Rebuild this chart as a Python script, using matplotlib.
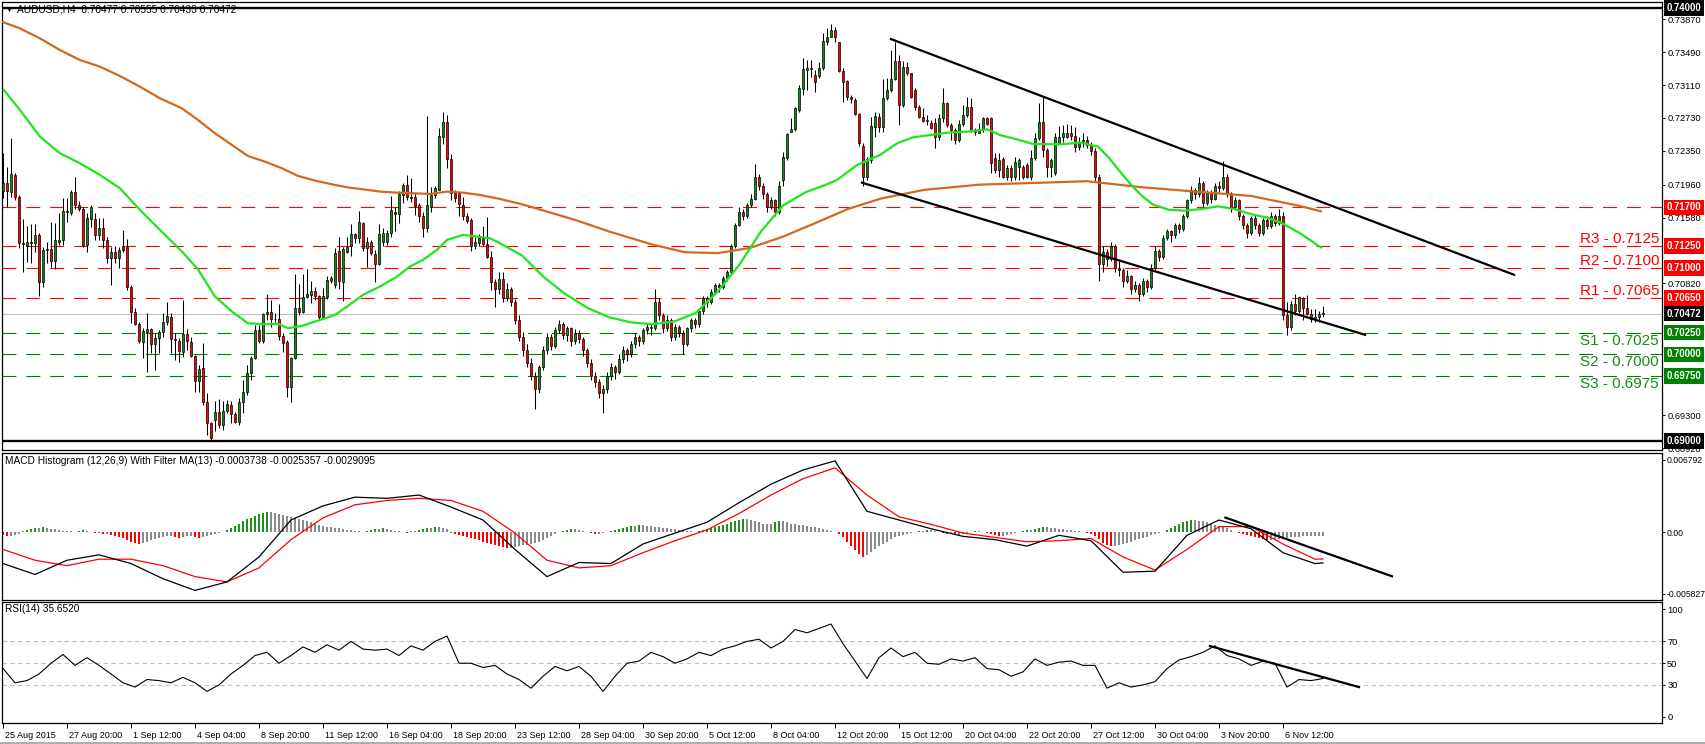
import matplotlib
matplotlib.use('Agg')
import matplotlib.pyplot as plt
import matplotlib.transforms as mtrans
import numpy as np

plt.rcParams['font.family'] = ['Liberation Sans', 'DejaVu Sans']

# ---------------- price data (H4 candles, bar index 0..330) ----------------
OPEN = [
 .71891,.71984,.71880,.72072,.71814,.71284,.71257,.71295,.71284,.71376,
 .70841,.71207,.71215,.71084,.71303,.71322,.71657,.71630,.71872,.71730,
 .71676,.71265,.71568,.71560,.71380,.71457,.71322,.71118,.71180,.71110,
 .71245,.71245,.70776,.70495,.70353,.70149,.70264,.70291,.70118,.70187,
 .70264,.70372,.70438,.70176,.70157,.70034,.70237,.70149,.69984,.69688,
 .69842,.69446,.69207,.69245,.69334,.69180,.69349,.69418,.69314,.69218,
 .69449,.69564,.69788,.69961,.70284,.70150,.70464,.70487,.70407,.70407,
 .70214,.70141,.69622,.69961,.70541,.70495,.70668,.70687,.70733,.70676,
 .70438,.70668,.70853,.70803,.71191,.70841,.71187,.71253,.71391,.71341,
 .71514,.71226,.71295,.71161,.71041,.71303,.71303,.71399,.71618,.71618,
 .71841,.71953,.71822,.71822,.71726,.71599,.71457,.71699,.71841,.71899,
 .72507,.72682,.72253,.71861,.71861,.71726,.71599,.71553,.71253,.71291,
 .71345,.71276,.71130,.70834,.70753,.70868,.70650,.70750,.70600,.70400,
 .70200,.70050,.69900,.69750,.69600,.69850,.70050,.70200,.70100,.70280,
 .70350,.70220,.70300,.70150,.70250,.70180,.70050,.69900,.69750,.69680,
 .69550,.69600,.69750,.69850,.69800,.69950,.70050,.70000,.70120,.70200,
 .70150,.70280,.70320,.70300,.70600,.70450,.70300,.70400,.70200,.70320,
 .70250,.70120,.70300,.70400,.70350,.70500,.70650,.70600,.70720,.70800,
 .70780,.70880,.70950,.71250,.71500,.71650,.71600,.71720,.71800,.72050,
 .71950,.71850,.71700,.71780,.71650,.72014,.72272,.72572,.72599,.72822,
 .73060,.73283,.73302,.73226,.73218,.73310,.73610,.73668,.73745,.73603,
 .73272,.73156,.72976,.72937,.72776,.72410,.72053,.72245,.72622,.72737,
 .72630,.72957,.73053,.73180,.73388,.72880,.73322,.73253,.73053,.72853,
 .72745,.72699,.72676,.72676,.72514,.72726,.72899,.72649,.72591,.72476,
 .72656,.72764,.72853,.72591,.72560,.72599,.72726,.72726,.72264,.72130,
 .72253,.72053,.72149,.72053,.72168,.72168,.72187,.72053,.72264,.72495,
 .72687,.72360,.72168,.72091,.72445,.72507,.72507,.72560,.72522,.72399,
 .72457,.72480,.72420,.72350,.72050,.71050,.71180,.71100,.71250,.71000,
 .70980,.70850,.70900,.70750,.70800,.70700,.70850,.70780,.71000,.71200,
 .71120,.71350,.71420,.71380,.71500,.71450,.71600,.71780,.71900,.71850,
 .71980,.71750,.71880,.71800,.71950,.71920,.72050,.71850,.71700,.71780,
 .71600,.71500,.71400,.71580,.71500,.71400,.71550,.71480,.71600,.71520,
 .71600,.70450,.70320,.70580,.70500,.70654,.70538,.70470,.70410,.70435,
 .70477]

HIGH = [
 .72322,.72168,.72503,.72091,.71841,.71561,.71484,.71507,.71507,.71399,
 .71245,.71303,.71530,.71522,.71630,.71803,.71803,.71899,.72045,.71770,
 .71707,.71630,.71726,.71630,.71572,.71572,.71360,.71245,.71253,.71245,
 .71437,.71330,.70803,.70534,.70380,.70303,.70474,.70303,.70245,.70283,
 .70474,.70610,.70476,.70245,.70187,.70630,.70291,.70207,.69995,.69880,
 .70130,.69553,.69220,.69457,.69484,.69457,.69476,.69457,.69341,.69495,
 .69707,.69880,.69984,.70341,.70341,.70476,.70699,.70630,.70476,.70580,
 .70245,.70168,.69976,.70926,.70814,.70926,.70987,.70849,.70776,.70687,
 .70764,.70907,.70910,.71230,.71361,.71245,.71361,.71507,.71399,.71657,
 .71534,.71361,.71322,.71207,.71503,.71457,.71437,.71830,.71707,.71888,
 .71984,.72072,.72034,.71861,.71745,.71649,.72753,.71938,.71945,.72620,
 .72797,.72766,.72315,.71899,.71880,.71815,.71630,.71572,.71361,.71391,
 .71484,.71591,.71191,.70868,.70957,.70950,.70820,.70780,.70640,.70450,
 .70260,.70120,.69960,.69800,.69880,.70100,.70250,.70240,.70320,.70400,
 .70380,.70330,.70320,.70290,.70280,.70200,.70080,.69950,.69800,.69720,
 .69650,.69800,.69900,.69880,.70000,.70100,.70080,.70150,.70250,.70220,
 .70300,.70360,.70350,.70750,.70650,.70480,.70450,.70420,.70350,.70340,
 .70280,.70320,.70420,.70420,.70520,.70680,.70680,.70750,.70830,.70820,
 .70900,.70980,.71280,.71520,.71700,.71680,.71750,.71850,.72200,.72080,
 .71980,.71880,.71820,.71800,.72000,.72341,.72560,.72726,.72860,.73110,
 .73418,.73399,.73399,.73283,.73380,.73707,.73764,.73814,.73783,.73610,
 .73302,.73168,.72995,.72957,.72784,.72437,.72283,.72745,.72803,.72784,
 .73180,.73187,.73514,.73610,.73457,.73388,.73380,.73253,.73072,.72880,
 .72841,.72764,.72707,.72726,.72772,.73072,.72918,.72668,.72610,.72707,
 .72880,.72976,.72957,.72610,.72668,.72745,.72745,.72745,.72322,.72322,
 .72283,.72187,.72190,.72283,.72264,.72190,.72207,.72360,.72553,.72899,
 .72968,.72379,.72264,.72553,.72637,.72649,.72656,.72649,.72630,.72507,
 .72560,.72520,.72450,.72380,.72080,.71250,.71220,.71300,.71270,.71080,
 .71000,.70980,.70920,.70850,.70820,.70880,.70870,.71050,.71250,.71220,
 .71380,.71450,.71440,.71520,.71520,.71620,.71800,.71950,.71920,.72050,
 .72000,.71900,.71900,.71980,.72000,.72230,.72080,.71880,.71820,.71800,
 .71620,.71520,.71600,.71620,.71520,.71580,.71600,.71650,.71620,.71680,
 .71650,.70600,.70620,.70700,.70680,.70665,.70688,.70520,.70520,.70500,
 .70555]

LOW = [
 .71803,.71707,.71822,.71784,.71226,.70957,.71072,.71053,.71188,.70680,
 .70784,.71053,.71015,.70984,.71265,.71265,.71534,.71611,.71676,.71661,
 .71245,.71188,.71476,.71322,.71322,.71226,.71053,.70803,.71053,.70995,
 .71188,.70745,.70360,.70341,.70129,.69957,.69803,.70015,.69822,.70015,
 .70206,.70341,.70014,.69937,.69918,.69976,.70053,.69976,.69572,.69572,
 .69418,.69072,.69015,.69111,.69149,.69130,.69322,.69207,.69207,.69187,
 .69322,.69534,.69707,.69942,.70130,.70130,.70399,.70322,.70380,.70170,
 .70034,.69514,.69446,.69942,.70457,.70476,.70657,.70599,.70630,.70407,
 .70407,.70638,.70822,.70764,.70753,.70622,.71168,.71141,.71291,.71291,
 .71199,.71015,.71149,.70841,.71034,.71253,.71264,.71361,.71426,.71514,
 .71745,.71784,.71764,.71611,.71534,.71361,.71418,.71649,.71803,.71899,
 .72430,.72149,.71784,.71764,.71599,.71553,.71514,.71195,.71214,.71253,
 .71253,.71111,.70745,.70553,.70699,.70600,.70620,.70560,.70350,.70150,
 .69980,.69850,.69700,.69370,.69550,.69820,.70000,.70050,.70080,.70250,
 .70180,.70150,.70100,.70120,.70130,.69980,.69850,.69700,.69620,.69500,
 .69320,.69560,.69700,.69720,.69780,.69900,.69920,.69970,.70080,.70100,
 .70120,.70240,.70220,.70280,.70400,.70250,.70270,.70150,.70170,.70200,
 .70000,.70100,.70260,.70300,.70320,.70470,.70550,.70580,.70700,.70720,
 .70760,.70850,.70930,.71230,.71480,.71550,.71580,.71700,.71780,.71900,
 .71800,.71650,.71680,.71600,.71620,.71950,.72250,.72572,.72580,.72803,
 .72995,.73053,.73207,.73034,.73187,.73283,.73572,.73668,.73610,.73264,
 .72918,.72937,.72899,.72764,.72410,.71950,.72010,.72207,.72514,.72572,
 .72572,.72937,.73034,.73168,.72649,.72861,.73226,.72964,.72822,.72726,
 .72687,.72649,.72599,.72379,.72476,.72687,.72630,.72476,.72430,.72457,
 .72637,.72745,.72572,.72533,.72553,.72572,.72649,.72091,.72091,.72053,
 .72033,.72014,.72000,.72014,.72014,.72030,.72033,.72014,.72245,.72476,
 .72283,.72053,.72053,.72072,.72437,.72457,.72495,.72476,.72341,.72360,
 .72400,.72380,.72300,.72000,.70850,.70950,.71020,.71080,.70950,.70900,
 .70780,.70820,.70700,.70720,.70620,.70680,.70720,.70760,.70980,.71080,
 .71100,.71320,.71300,.71350,.71400,.71430,.71580,.71750,.71800,.71820,
 .71700,.71720,.71750,.71780,.71880,.71900,.71820,.71650,.71680,.71550,
 .71450,.71350,.71380,.71450,.71370,.71380,.71450,.71460,.71480,.71500,
 .70400,.70220,.70280,.70450,.70480,.70400,.70450,.70370,.70370,.70370,
 .70433]

CLOSE = [
 .71984,.71891,.72084,.71822,.71284,.71272,.71295,.71290,.71376,.70841,
 .71207,.71215,.71084,.71322,.71322,.71657,.71641,.71876,.71730,.71676,
 .71265,.71572,.71703,.71380,.71457,.71322,.71118,.71180,.71110,.71207,
 .71207,.70776,.70495,.70353,.70160,.70272,.70291,.70118,.70187,.70264,
 .70372,.70445,.70176,.70168,.70045,.70237,.70161,.69984,.69699,.69830,
 .69446,.69207,.69034,.69334,.69180,.69349,.69430,.69311,.69226,.69449,
 .69564,.69788,.69961,.70284,.70150,.70464,.70487,.70407,.70405,.70214,
 .70130,.69622,.69961,.70541,.70495,.70668,.70695,.70733,.70676,.70438,
 .70676,.70860,.70883,.71172,.70853,.71214,.71245,.71391,.71345,.71526,
 .71226,.71295,.71168,.71041,.71391,.71399,.71399,.71668,.71645,.71853,
 .71957,.71822,.71803,.71714,.71599,.71457,.71726,.71841,.71918,.72523,
 .72682,.72253,.71861,.71803,.71734,.71599,.71545,.71253,.71295,.71345,
 .71276,.71130,.70834,.70753,.70868,.70650,.70750,.70600,.70400,.70200,
 .70050,.69900,.69750,.69600,.69850,.70050,.70200,.70100,.70280,.70350,
 .70220,.70300,.70150,.70250,.70180,.70050,.69900,.69750,.69680,.69550,
 .69600,.69750,.69850,.69800,.69950,.70050,.70000,.70120,.70200,.70150,
 .70280,.70320,.70300,.70600,.70450,.70300,.70400,.70200,.70320,.70250,
 .70120,.70300,.70400,.70350,.70500,.70650,.70600,.70720,.70800,.70780,
 .70880,.70950,.71250,.71500,.71650,.71600,.71720,.71800,.72050,.71950,
 .71850,.71700,.71780,.71650,.71950,.72283,.72541,.72599,.72841,.73072,
 .73295,.73302,.73298,.73149,.73310,.73618,.73668,.73745,.73660,.73272,
 .73141,.72976,.72945,.72776,.72437,.72053,.72253,.72638,.72753,.72630,
 .72957,.73053,.73180,.73388,.72880,.73322,.73253,.72976,.72853,.72745,
 .72699,.72695,.72618,.72514,.72726,.72899,.72649,.72591,.72476,.72660,
 .72764,.72853,.72591,.72564,.72599,.72726,.72660,.72207,.72130,.72245,
 .72053,.72149,.72053,.72226,.72245,.72053,.72053,.72264,.72495,.72687,
 .72360,.72168,.72245,.72514,.72514,.72553,.72560,.72522,.72399,.72457,
 .72480,.72420,.72350,.72050,.71050,.71180,.71100,.71250,.71000,.70980,
 .70850,.70900,.70750,.70800,.70700,.70850,.70780,.71000,.71200,.71120,
 .71350,.71420,.71380,.71500,.71450,.71600,.71780,.71900,.71850,.71980,
 .71750,.71880,.71800,.71950,.71920,.72050,.71850,.71700,.71780,.71600,
 .71500,.71400,.71580,.71500,.71400,.71550,.71480,.71600,.71520,.71600,
 .70450,.70320,.70580,.70500,.70660,.70538,.70470,.70410,.70435,.70472,
 .70472]

# moving averages (bar position, price)
GREEN_MA_X = [0,4.25,9.25,14.25,19.25,24.25,29.25,34.25,39.25,44.75,48.75,53,57.25,61.25,65.5,68.75,
              71.25,74.75,78.75,83,86,90,94.25,98.5,101.75,105,108.5,111,115,118.5,121.75,124.25,
              129.75,135.25,140.5,146,151.5,157,162.25,167.75,173.25,178.75,184,189.5,195,200.5,
              205.75,208.5,213.5,219.25,223.5,227.5,231.75,236,241,246,249.25,252.5,257.5,264.25,
              269.25,273.75,276.5,279.25,282,284.75,287.5,291.5,295.5,299.75,303.75,307.75,312,316,
              319.5,324.25,329.75]
GREEN_MA_Y = [.73064,.72822,.72514,.72322,.72207,.72072,.71918,.71668,.71437,.71187,.70983,.70668,.70495,
              .70360,.70349,.70353,.70303,.70330,.70391,.70457,.70553,.70688,.70784,.70899,.71015,.71092,
              .71207,.71322,.71380,.71361,.71341,.71284,.71143,.70890,.70700,.70540,.70430,.70370,.70350,
              .70380,.70480,.70730,.71030,.71420,.71720,.71870,.71960,.72014,.72187,.72303,.72437,.72507,
              .72533,.72560,.72572,.72599,.72533,.72495,.72430,.72426,.72445,.72400,.72270,.72110,.71960,
              .71830,.71730,.71670,.71660,.71680,.71710,.71680,.71620,.71580,.71520,.71400,.71227]
ORANGE_MA_X = [-0.25,4.25,9.25,14.25,19.25,24.25,29.25,34.25,39.25,44.75,48.75,53,57.25,61.25,65.5,69.75,
               73.75,78,83,86,90,94.25,98.5,102.5,106.75,111,115,119.25,124.25,129.75,135.25,143.25,
               151.5,162.25,170.5,178.75,186.75,195,203.25,211.25,219.5,230.25,244,257.5,271,284.75,
               298.25,312,324.25,329.75]
ORANGE_MA_Y = [.73841,.73764,.73649,.73514,.73399,.73322,.73214,.73091,.72957,.72841,.72707,.72553,.72418,
               .72291,.72226,.72149,.72061,.72007,.71957,.71930,.71907,.71880,.71868,.71861,.71853,.71880,
               .71868,.71841,.71795,.71734,.71660,.71550,.71420,.71270,.71180,.71170,.71230,.71360,.71520,
               .71680,.71800,.71900,.71960,.71980,.72000,.71930,.71880,.71830,.71714,.71649]

# channel trend lines (bar, price)
CHANNEL_UPPER_X = [222, 377.75]
CHANNEL_UPPER_Y = [0.73641, 0.70920]
CHANNEL_LOWER_X = [214.75, 340.5]
CHANNEL_LOWER_Y = [0.71983, 0.70227]

# horizontal levels
RESIST = [0.7125, 0.7100, 0.7065]
RESIST_TXT = ['R3 - 0.7125', 'R2 - 0.7100', 'R1 - 0.7065']
SUPPORT = [0.7025, 0.7000, 0.6975]
SUPPORT_TXT = ['S1 - 0.7025', 'S2 - 0.7000', 'S3 - 0.6975']
EXTRA_RED = 0.7170
LAST_PRICE = 0.70472
BLACK_LEVELS = [0.7400, 0.6900]

# scale labels (those hidden behind the coloured price boxes are left out)
PRICE_TICKS = [0.7387, 0.7349, 0.7311, 0.7273, 0.7235, 0.7196, 0.7158,
               0.7082, 0.6930, 0.6892]
PRICE_TICK_TXT = ['0.73870', '0.73490', '0.73110', '0.72730', '0.72350', '0.71960', '0.71580',
                  '0.70820', '0.69300', '0.68920']

# MACD panel (values x 1e-3 at bars 0,8,...,328,330)
MACD_X = list(range(0, 329, 8)) + [330]
MACD_MAIN = [-2.97, -4.0, -2.66, -2.15, -2.97, -4.4, -5.5, -4.7, -2.35, 1.13, 2.46, 3.28, 3.17, 3.48,
             2.35, 1.13, -1.64, -4.2, -2.87, -2.97, -1.13, -0.1, 0.92, 2.76, 4.5, 5.84, 6.7, 1.95,
             1.13, 0.31, -0.41, -0.72, -1.33, -0.31, -0.82, -3.79, -3.69, -0.31, 1.13, 0.31, -1.95,
             -2.97, -2.91]
MACD_SIGNAL = [-1.64, -2.66, -3.17, -2.56, -2.56, -3.17, -4.2, -4.7, -3.38, -0.72, 1.33, 2.56, 2.97,
               3.17, 2.97, 1.95, -0.1, -2.66, -3.38, -3.17, -1.95, -0.82, 0.2, 1.74, 3.48, 5.02, 6.04,
               3.48, 1.43, 0.72, -0.1, -0.51, -0.92, -0.82, -0.61, -2.35, -3.58, -1.64, 0.51, 0.51,
               -1.13, -2.56, -2.54]
# histogram per bar (x 1e-4)
MACD_HIST = [
 -3,-4,-4,-3,-2, 1,2,3,4,4,5,4,3,3,2,1, 1,1,0,1,2,1,0,-1,-1,-2,-2,
 -3,-4,-5,-6,-8,-9,-10,-11,-10,-9,-8,-7,-6,-5,
 -4,-4,-5,-6,-5,-4,-4,-5,-6,-5,-4,-3,-2,
 -1,0,2,4,6,8,10,12,13, 15,17,18,19,19,18,17,16, 15,14,13,12,11,10,9,8,
 7,6,5,5,4,4,3,2,2,1,1,0,1,2, 3,3,4,3,2, 1,1,0,-1,1,
 1,2,3,4,4,5,5,4,3, -1,-2,-3,-4,-5,-6,-7,-8,-9,
 -10,-11,-12,-13,-14,-15,-15,-14,-13,-12,-12,-11,-10,-9,-8,
 -6,-4,-2,0,1,2,3,3,2,1,0, -1,-2,-2,-1,0,1,2,3,
 4,5,6,6,7,7,6,6,5,5,4,4,3,3, 2,2,1,1,0,1,2,3,4,5,6,
 7,8,9,10,11,12,12,11,10,9,8, 8,8,9,10,10,9,8,8,7,7,
 6,5,5,4,3,2,1,0,-2, -5,-9,-13,-17,-21,-24,-22,-19, -16,-13,-11,-9,-7,-5,-4,-3,
 -2,-1,0,1,1, 2,2,1,0,-1,-2,-2,-3,-3,-2,-1,0,1,1,0,-1,-2,-3,-4,-4,-3,-2,-1,0,1,2,2,
 3,4,5,5,4,4,3,3,2,2,1,1,0,-1, -2,-4,-7,-10,-12,-13,-13,-12,
 -11,-10,-9,-8,-7,-6,-5,-3, -2,-1,0,2,4, 6,8,9,10,11,11,10,10,9,8,7,
 6,5,4,2,0,-1, -2,-3,-4,-5,-6,-7,-8,-8, -7,-7,-6,-6,-5,-5,-5,-4,-4,-4,-4,-4,-4]
MACD_TREND_X = [305.6, 347.25]
MACD_TREND_Y = [0.001356, -0.00417]
MACD_TICKS = [0.006792, 0.0, -0.005827]
MACD_TICK_TXT = ['0.006792', '0.00', '-0.005827']

# RSI (bars 0,3,...,330)
RSI_X = list(range(0, 331, 3))
RSI = [45, 31.7, 33.7, 39.8, 49.8, 57.9, 47.8, 54.9, 47.8, 39.8,
       31.7, 27.7, 34.7, 33.7, 31.7, 36.7, 31.7, 23.7, 29.7, 39.8,
       47.8, 56.9, 59.9, 49.8, 56.9, 64.9, 59.9, 66.9, 61.9, 70.0,
       62.9, 61.9, 62.9, 56.9, 65.9, 61.9, 70.0, 75.0, 49.8, 49.8,
       45.8, 47.8, 39.8, 34.7, 26.7, 37.7, 46.8, 42.8, 46.8, 37.7,
       23.7, 37.7, 49.8, 51.8, 59.9, 55.9, 49.8, 53.8, 59.9, 56.9,
       62.9, 65.9, 70.0, 72.0, 63.9, 70.0, 81.0, 78.0, 82.0, 86.1,
       67.9, 51.8, 35.7, 54.9, 63.9, 55.9, 59.9, 49.8, 48.8, 53.8,
       51.8, 54.9, 44.8, 43.8, 37.7, 41.8, 53.8, 47.8, 50.8, 51.8,
       47.8, 47.8, 26.7, 31.7, 27.7, 29.7, 32.7, 44.8, 52.8, 55.9,
       59.9, 65.9, 56.9, 53.8, 47.8, 51.8, 49.8, 27.7, 34.7, 33.7, 35.65]
RSI_TREND_X = [301.75, 339]
RSI_TREND_Y = [65.7, 27.7]
RSI_LEVELS = [70, 50, 30]
RSI_TICKS = [100, 70, 50, 30, 0]

XTICK_BARS = list(range(0, 321, 16))
XTICK_TXT = ['25 Aug 2015', '27 Aug 20:00', '1 Sep 12:00', '4 Sep 04:00', '8 Sep 20:00',
             '11 Sep 12:00', '16 Sep 04:00', '18 Sep 20:00', '23 Sep 12:00', '28 Sep 04:00',
             '30 Sep 20:00', '5 Oct 12:00', '8 Oct 04:00', '12 Oct 20:00', '15 Oct 12:00',
             '20 Oct 04:00', '22 Oct 20:00', '27 Oct 12:00', '30 Oct 04:00', '3 Nov 20:00',
             '6 Nov 12:00']

# ---------------- figure ----------------
W, H = 1705, 744
fig = plt.figure(figsize=(W / 100, H / 100), dpi=100)
fig.patch.set_facecolor('white')


def rect(top, bottom, left=2, right=1662):
    return [left / W, 1 - bottom / H, (right - left) / W, (bottom - top) / H]


ax = fig.add_axes(rect(2, 450))
axm = fig.add_axes(rect(453, 600))
axr = fig.add_axes(rect(602, 723))

XL = (-0.25, 414.75)
for a in (ax, axm, axr):
    a.set_xlim(*XL)
    a.set_facecolor('white')
    for s in a.spines.values():
        s.set_linewidth(0.9)
        s.set_color('black')
    a.yaxis.tick_right()
    a.tick_params(axis='y', direction='out', length=2.2, width=0.7, pad=1.5,
                  labelsize=6.7, colors='black')
ax.set_xticks([])
axm.set_xticks([])

GREEN_C = '#138a13'
RED_C = '#ff0000'

# ---- main price panel ----
ax.set_ylim(0.68897, 0.74069)
n = min(len(OPEN), len(HIGH), len(LOW), len(CLOSE))
o = np.array(OPEN[:n]); h = np.array(HIGH[:n]); l = np.array(LOW[:n]); c = np.array(CLOSE[:n])
idx = np.arange(n)
ax.vlines(idx, l, h, color='black', lw=0.75, zorder=4)
bot = np.minimum(o, c)
hgt = np.maximum(np.abs(c - o), 0.00009)
up = c >= o
ax.bar(idx[up], hgt[up], bottom=bot[up], width=0.62, color=GREEN_C, edgecolor='black',
       linewidth=0.5, zorder=5)
ax.bar(idx[~up], hgt[~up], bottom=bot[~up], width=0.62, color=RED_C, edgecolor='black',
       linewidth=0.5, zorder=5)

ax.plot(ORANGE_MA_X, ORANGE_MA_Y, color='#d2691e', lw=1.6, zorder=6, solid_capstyle='butt')
ax.plot(GREEN_MA_X, GREEN_MA_Y, color='#1ee61e', lw=1.6, zorder=6, solid_capstyle='butt')
ax.plot(CHANNEL_UPPER_X, CHANNEL_UPPER_Y, color='black', lw=1.6, zorder=7)
ax.plot(CHANNEL_LOWER_X, CHANNEL_LOWER_Y, color='black', lw=1.6, zorder=7)

dash = (0, (12.5, 9))
for lv in RESIST + [EXTRA_RED]:
    ax.axhline(lv, color=RED_C, lw=0.8, linestyle=dash, zorder=2)
for lv in SUPPORT:
    ax.axhline(lv, color='#008000', lw=0.8, linestyle=dash, zorder=2)
ax.axhline(LAST_PRICE, color='#c0c0c0', lw=0.8, zorder=1)
for lv in BLACK_LEVELS:
    ax.axhline(lv, color='black', lw=1.7, zorder=3)

blend = mtrans.blended_transform_factory(ax.transAxes, ax.transData)
tr_up = mtrans.offset_copy(blend, fig=fig, x=0, y=3, units='dots')
tr_dn = mtrans.offset_copy(blend, fig=fig, x=0, y=-1, units='dots')
xr = (1659 - 2) / 1660
for lv, t in zip(RESIST, RESIST_TXT):
    ax.text(xr, lv, t, transform=tr_up, ha='right', va='baseline', fontsize=11, color=RED_C, zorder=8)
for lv, t in zip(SUPPORT, SUPPORT_TXT):
    ax.text(xr, lv, t, transform=tr_dn, ha='right', va='top', fontsize=11, color='#1a8a1a', zorder=8)

ax.set_yticks(PRICE_TICKS)
ax.set_yticklabels(PRICE_TICK_TXT)


def price_box(axis, val, text, bg):
    b = mtrans.blended_transform_factory(axis.transAxes, axis.transData)
    t = mtrans.offset_copy(b, fig=fig, x=4.5, y=0, units='dots')
    axis.text(1.0, val, text, transform=t, ha='left', va='center', fontsize=6.9, color='white',
              fontweight='bold',
              bbox=dict(boxstyle='square,pad=0.28', facecolor=bg, edgecolor='none'),
              clip_on=False, zorder=20)


price_box(ax, 0.7400, '0.74000', 'black')
price_box(ax, 0.7170, '0.71700', RED_C)
price_box(ax, 0.7125, '0.71250', RED_C)
price_box(ax, 0.7100, '0.71000', RED_C)
price_box(ax, 0.7065, '0.70650', RED_C)
price_box(ax, LAST_PRICE, '0.70472', 'black')
price_box(ax, 0.7025, '0.70250', '#008000')
price_box(ax, 0.7000, '0.70000', '#008000')
price_box(ax, 0.6975, '0.69750', '#008000')
price_box(ax, 0.6900, '0.69000', 'black')

# ---- MACD panel ----
axm.set_ylim(-0.006403, 0.007439)
hist = np.array(MACD_HIST, dtype=float) * 1e-4
hcol = []
prev = 0.0
for v in hist:
    if v > 0 and abs(v) > abs(prev):
        hcol.append('#1f8f1f')
    elif v < 0 and abs(v) > abs(prev):
        hcol.append(RED_C)
    else:
        hcol.append('#8a8a8a')
    prev = v
axm.bar(np.arange(len(hist)), hist, width=0.55, color=hcol, linewidth=0, zorder=2)
axm.plot(MACD_X, np.array(MACD_MAIN) * 1e-3, color='black', lw=0.9, zorder=4)
axm.plot(MACD_X, np.array(MACD_SIGNAL) * 1e-3, color=RED_C, lw=0.9, zorder=3)
axm.plot(MACD_TREND_X, MACD_TREND_Y, color='black', lw=1.6, zorder=5)
axm.set_yticks(MACD_TICKS)
axm.set_yticklabels(MACD_TICK_TXT)
axm.tick_params(axis='y', labelsize=6.2, pad=1.2)

# ---- RSI panel ----
axr.set_ylim(-5.56, 106.5)
for lv in RSI_LEVELS:
    axr.axhline(lv, color='#c0c0c0', lw=0.8, linestyle=(0, (4, 3)), zorder=1)
axr.plot(RSI_X, RSI, color='black', lw=0.8, zorder=3)
axr.plot(RSI_TREND_X, RSI_TREND_Y, color='black', lw=1.6, zorder=4)
axr.set_yticks(RSI_TICKS)
axr.set_yticklabels([str(v) for v in RSI_TICKS])

axr.set_xticks(XTICK_BARS)
axr.set_xticklabels(XTICK_TXT, fontsize=6.5, ha='left')
axr.tick_params(axis='x', direction='out', length=3.6, width=0.7, pad=1.8, colors='black')
shift = mtrans.ScaledTranslation(2 / 100, 0, fig.dpi_scale_trans)
for lab in axr.get_xticklabels():
    lab.set_transform(lab.get_transform() + shift)

# ---- headers ----
fig.text(5.5 / W, 1 - 10 / H, '\u25bc', fontsize=5, va='center', ha='left', color='black')
fig.text(17 / W, 1 - 10 / H, 'AUDUSD,H4  0.70477 0.70555 0.70433 0.70472', fontsize=7.3,
         va='center', ha='left', color='black')
fig.text(5 / W, 1 - 461 / H,
         'MACD Histogram (12,26,9) With Filter MA(13) -0.0003738 -0.0025357 -0.0029095',
         fontsize=7.3, va='center', ha='left', color='black')
fig.text(5 / W, 1 - 609 / H, 'RSI(14) 35.6520', fontsize=7.3, va='center', ha='left', color='black')

# bottom frame line
fig.add_artist(plt.Line2D([0, 1], [0.6 / H, 0.6 / H], color='#a0a0a0', lw=1.2))

fig.savefig('out.png', dpi=100, facecolor='white')
